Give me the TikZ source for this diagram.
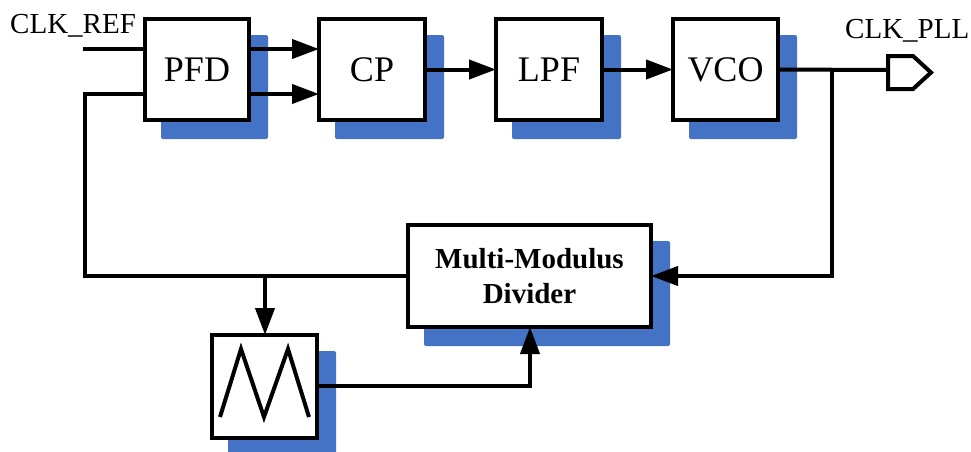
\documentclass[tikz,border=0pt]{standalone}
\usepackage{fontspec}
\setmainfont{Liberation Serif}
\usetikzlibrary{arrows.meta,backgrounds}
\definecolor{shblue}{HTML}{4472C4}
\tikzset{
  blk/.style={draw, line width=4pt, fill=white, inner sep=0pt, outer sep=0pt, font=\fontsize{36}{40}\selectfont},
  wire/.style={line width=4pt},
  arr/.style={wire, -{Triangle[length=27pt,width=19pt]}},
  lbl/.style={font=\fontsize{29}{32}\selectfont, inner sep=0pt},
  shadowfill/.style={fill=shblue, rounded corners=2pt},
}
\newcommand{\shadowof}[1]{\path[shadowfill] ([shift={(16,16)}]#1.north west) rectangle ([shift={(19,19)}]#1.south east);}
\begin{document}
\begin{tikzpicture}[x=1pt,y=-1pt]
\useasboundingbox (0,0) rectangle (971,451);
% boxes
\node[blk, minimum width=104pt, minimum height=101pt] (pfd) at (197,69.5) {PFD};
\node[blk, minimum width=106pt, minimum height=101pt] (cp) at (372,69.5) {CP};
\node[blk, minimum width=106pt, minimum height=101pt] (lpf) at (549,69.5) {LPF};
\node[blk, minimum width=105pt, minimum height=101pt] (vco) at (725.5,69.5) {VCO};
\node[blk, minimum width=243pt, minimum height=102pt, align=center, font=\fontsize{29}{35}\selectfont\bfseries] (mmd) at (529.5,276) {Multi-Modulus\\Divider};
\node[blk, minimum width=105pt, minimum height=103pt] (tri) at (264.5,386.5) {};
% shadows
\begin{scope}[on background layer]
\shadowof{pfd}
\shadowof{cp}
\shadowof{lpf}
\shadowof{vco}
\shadowof{mmd}
\shadowof{tri}
\end{scope}
% zigzag
\draw[wire, line join=miter] (220,417) -- (241,349) -- (264,417) -- (288,349) -- (309,417);
% coordinates
\coordinate (refin) at (83,49);
\coordinate (fbl) at (85,94);
\coordinate (fbb) at (85,276);
\coordinate (br) at (832,70);
\coordinate (brb) at (832,276);
\coordinate (tap) at (265,276);
\coordinate (corner) at (530,386);
% labels
\node[lbl, anchor=base west] (clkref) at (10,33) {CLK\_REF};
\node[lbl, anchor=base west] (clkpll) at (845,38) {CLK\_PLL};
% wires
\draw[wire] (refin) -- (pfd.west |- refin);
\draw[arr] (pfd.east |- 0,49) -- (cp.west |- 0,49);
\draw[arr] (pfd.east |- 0,94) -- (cp.west |- 0,94);
\draw[arr] (cp.east) -- (lpf.west);
\draw[arr] (lpf.east) -- (vco.west);
\draw[wire] (vco.east) -- (888,70);
\draw[wire, line join=miter] (888,56) -- (913,56) -- (931,72.5) -- (913,89) -- (888,89) -- cycle;
\draw[arr, line join=miter] (br) -- (brb) -- (mmd.east |- brb);
\draw[wire, line join=miter] (mmd.west |- fbb) -- (fbb) -- (fbl) -- (pfd.west |- fbl);
\draw[arr] (tap) -- (tap |- tri.north);
\draw[arr, line join=miter] (tri.east |- corner) -- (corner) -- (corner |- mmd.south);
\end{tikzpicture}
\end{document}
